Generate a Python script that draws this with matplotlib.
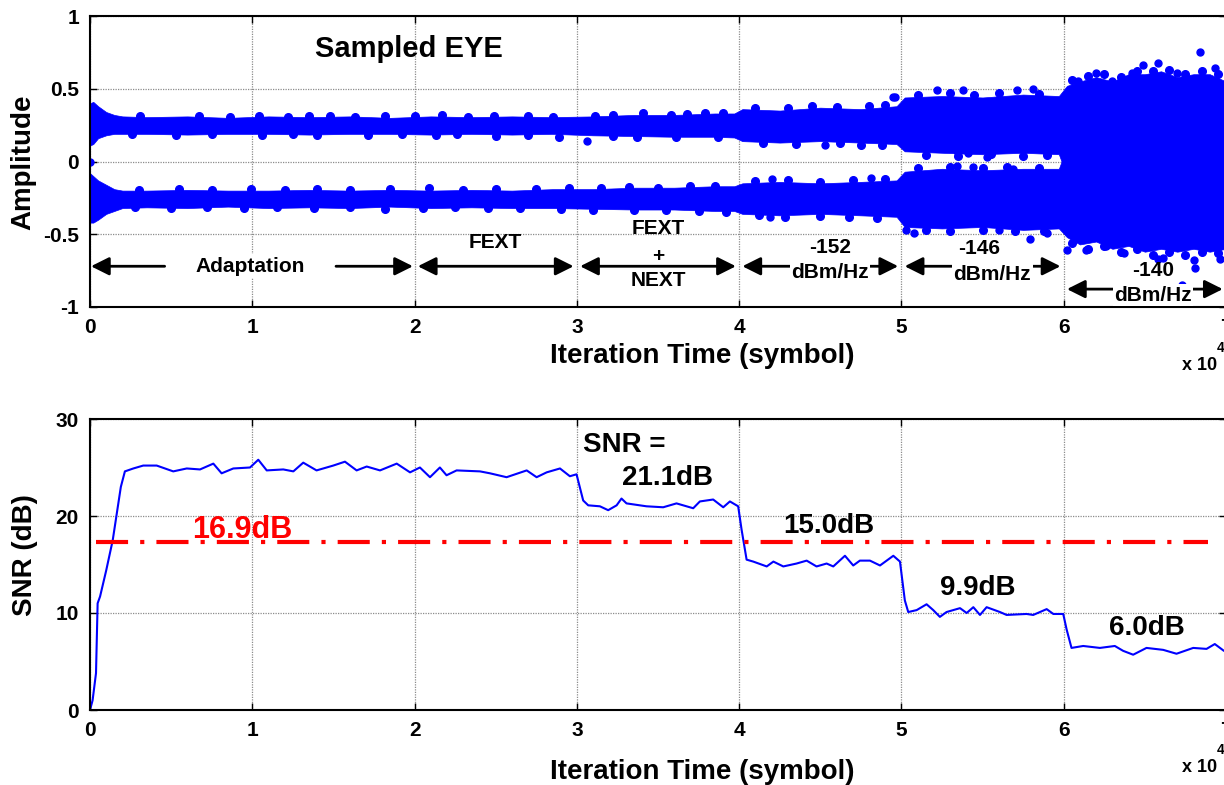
import matplotlib.pyplot as plt
from matplotlib.ticker import MultipleLocator

plt.rcParams['font.family'] = ['Liberation Sans', 'DejaVu Sans']
plt.rcParams['font.weight'] = 'bold'

### data (x in units of 1e4 symbols)

# sampled eye: envelope of the two amplitude clouds
eye_x = [0, 0.02, 0.05, 0.1, 0.15, 0.2, 0.35, 0.6, 0.85, 1.1, 1.35, 1.6, 1.85, 2.1, 2.35, 2.6,
         2.85, 3.1, 3.35, 3.6, 3.85, 3.97, 4.02, 4.25, 4.5, 4.75, 4.97, 5.02, 5.25, 5.5, 5.75, 5.97,
         6.02, 6.1, 6.2, 6.3, 6.4, 6.5, 6.6, 6.7, 6.8, 6.9, 7.0]
up_hi = [0.40, 0.41, 0.38, 0.34, 0.32, 0.31, 0.305, 0.31, 0.30, 0.31, 0.305, 0.31, 0.30, 0.31, 0.305, 0.31,
         0.305, 0.31, 0.32, 0.32, 0.33, 0.33, 0.36, 0.35, 0.37, 0.36, 0.38, 0.44, 0.45, 0.44, 0.46, 0.45,
         0.52, 0.55, 0.58, 0.55, 0.60, 0.60, 0.62, 0.58, 0.60, 0.60, 0.55]
up_lo = [0.11, 0.12, 0.16, 0.18, 0.19, 0.19, 0.19, 0.185, 0.19, 0.19, 0.185, 0.19, 0.19, 0.185, 0.19, 0.185,
         0.19, 0.18, 0.175, 0.17, 0.17, 0.165, 0.14, 0.13, 0.14, 0.13, 0.12, 0.07, 0.06, 0.05, 0.06, 0.05,
         -0.1, -0.1, -0.1, -0.1, -0.1, -0.1, -0.1, -0.1, -0.1, -0.1, -0.1]
lo_hi = [-0.08, -0.10, -0.13, -0.16, -0.19, -0.20, -0.20, -0.195, -0.20, -0.20, -0.195, -0.20, -0.195, -0.20, -0.195, -0.20,
         -0.19, -0.19, -0.18, -0.18, -0.17, -0.17, -0.15, -0.14, -0.15, -0.14, -0.13, -0.07, -0.05, -0.06, -0.05, -0.05,
         0.1, 0.1, 0.1, 0.1, 0.1, 0.1, 0.1, 0.1, 0.1, 0.1, 0.1]
lo_lo = [-0.42, -0.42, -0.40, -0.36, -0.34, -0.32, -0.315, -0.32, -0.31, -0.32, -0.315, -0.32, -0.31, -0.32, -0.315, -0.32,
         -0.32, -0.325, -0.33, -0.33, -0.34, -0.34, -0.36, -0.37, -0.36, -0.37, -0.38, -0.45, -0.46, -0.45, -0.47, -0.46,
         -0.52, -0.57, -0.55, -0.60, -0.58, -0.62, -0.60, -0.62, -0.60, -0.62, -0.60]

# bumps along the cloud edges
bump_x = [0.31, 0.67, 0.86, 1.04, 1.22, 1.35, 1.48, 1.63, 1.82, 2.0, 2.17, 2.33, 2.49, 2.70, 2.85,
          3.11, 3.22, 3.41, 3.58, 3.68, 3.79, 3.90,
          0.26, 0.53, 0.75, 1.06, 1.25, 1.40, 1.71, 1.92, 2.13, 2.26, 2.50, 2.70, 2.89, 3.22, 3.37, 3.61, 3.87,
          0.30, 0.55, 0.75, 0.99, 1.20, 1.40, 1.60, 1.85, 2.09, 2.30, 2.50, 2.75, 2.95, 3.15, 3.32, 3.50, 3.70, 3.85,
          0.28, 0.50, 0.72, 0.95, 1.15, 1.38, 1.60, 1.82, 2.05, 2.25, 2.45, 2.65, 2.90, 3.10, 3.35, 3.55, 3.75, 3.92,
          4.10, 4.30, 4.45, 4.60, 4.80, 4.90, 4.15, 4.35, 4.62, 4.75, 4.88,
          4.10, 4.30, 4.50, 4.70, 4.90, 4.12, 4.28, 4.50, 4.68, 4.85,
          5.10, 5.30, 5.45, 5.60, 5.85, 5.15, 5.35, 5.55, 5.75, 5.90,
          5.10, 5.30, 5.50, 5.65, 5.85, 5.15, 5.30, 5.50, 5.70, 5.88,
          6.05, 6.15, 6.25, 6.35, 6.45, 6.55, 6.65, 6.75, 6.85, 6.95,
          6.05, 6.15, 6.25, 6.35, 6.45, 6.55, 6.65, 6.75, 6.85, 6.95]
bump_y = [0.31, 0.315, 0.305, 0.31, 0.305, 0.31, 0.315, 0.305, 0.31, 0.315, 0.32, 0.305, 0.31, 0.315, 0.305,
          0.315, 0.32, 0.335, 0.32, 0.325, 0.33, 0.335,
          0.19, 0.185, 0.19, 0.185, 0.19, 0.185, 0.18, 0.19, 0.185, 0.19, 0.175, 0.185, 0.17, 0.175, 0.17, 0.165, 0.165,
          -0.195, -0.19, -0.195, -0.19, -0.195, -0.19, -0.195, -0.19, -0.18, -0.195, -0.19, -0.19, -0.185, -0.18, -0.175, -0.18, -0.17, -0.165,
          -0.315, -0.32, -0.315, -0.32, -0.315, -0.32, -0.315, -0.325, -0.32, -0.315, -0.32, -0.32, -0.325, -0.33, -0.335, -0.33, -0.34, -0.345,
          0.37, 0.365, 0.38, 0.375, 0.38, 0.39, 0.125, 0.12, 0.125, 0.115, 0.11,
          -0.135, -0.13, -0.14, -0.125, -0.12, -0.37, -0.38, -0.375, -0.38, -0.39,
          0.46, 0.47, 0.46, 0.47, 0.465, 0.045, 0.04, 0.05, 0.04, 0.045,
          -0.045, -0.04, -0.045, -0.04, -0.045, -0.47, -0.48, -0.47, -0.48, -0.475,
          0.56, 0.59, 0.6, 0.58, 0.62, 0.62, 0.63, 0.6, 0.62, 0.6,
          -0.56, -0.6, -0.58, -0.62, -0.6, -0.64, -0.62, -0.64, -0.62, -0.63]

# single dots sticking out of the clouds
dot_x = [0.0, 3.06, 4.53, 4.95, 4.96, 5.22, 5.38, 5.34, 5.41, 5.71, 5.81,
         4.19, 4.2, 4.81, 5.03, 5.08, 5.34, 5.6, 5.79, 5.9, 5.53, 5.69, 5.44,
         6.84, 6.93, 6.58, 6.42, 6.2, 6.7, 6.49, 6.3, 6.09,
         6.73, 6.81, 6.58, 6.37, 6.02, 6.96, 6.61, 6.8, 6.14, 6.26]
dot_y = [0.0, 0.143, 0.11, 0.44, 0.44, 0.49, 0.49, 0.075, 0.055, 0.49, 0.50,
         -0.38, -0.12, -0.11, -0.47, -0.49, -0.03, -0.47, -0.53, -0.49, 0.03, -0.05, -0.04,
         0.75, 0.64, 0.68, 0.61, 0.61, 0.61, 0.66, 0.55, 0.55,
         -0.85, -0.73, -0.67, -0.63, -0.61, -0.67, -0.66, -0.68, -0.61, -0.58]

# SNR curve
snr_x = [0, 0.016, 0.037, 0.047, 0.062, 0.10, 0.14, 0.19, 0.215, 0.267, 0.328, 0.411, 0.513, 0.596,
         0.678, 0.760, 0.811, 0.883, 0.986, 1.037, 1.089, 1.191, 1.253, 1.314, 1.396, 1.499, 1.571,
         1.643, 1.705, 1.787, 1.890, 1.972, 2.033, 2.095, 2.156, 2.197, 2.259, 2.403, 2.465, 2.567,
         2.691, 2.752, 2.814, 2.896, 2.957, 2.998, 3.039, 3.070, 3.142, 3.193, 3.245, 3.275, 3.306,
         3.429, 3.532, 3.614, 3.717, 3.758, 3.840, 3.902, 3.943, 3.994, 4.015, 4.046, 4.087, 4.170,
         4.211, 4.272, 4.354, 4.416, 4.477, 4.539, 4.580, 4.652, 4.703, 4.744, 4.806, 4.868, 4.950,
         4.991, 5.021, 5.042, 5.094, 5.155, 5.196, 5.237, 5.278, 5.361, 5.402, 5.443, 5.484, 5.525,
         5.607, 5.648, 5.771, 5.812, 5.895, 5.936, 5.997, 6.018, 6.048, 6.120, 6.223, 6.315, 6.366,
         6.428, 6.510, 6.613, 6.695, 6.798, 6.880, 6.931, 6.987, 7.0]
snr_y = [0, 1.0, 3.8, 11.0, 11.7, 14.4, 17.5, 23.0, 24.6, 24.9, 25.2, 25.2, 24.6, 24.9,
         24.8, 25.4, 24.4, 24.9, 25.0, 25.8, 24.7, 24.8, 24.6, 25.5, 24.7, 25.2, 25.6,
         24.7, 25.1, 24.7, 25.4, 24.5, 25.0, 24.0, 25.0, 24.2, 24.7, 24.6, 24.4, 24.0,
         24.7, 24.0, 24.5, 24.9, 24.1, 24.3, 21.6, 21.1, 21.0, 20.6, 21.1, 21.8, 21.3,
         21.0, 20.9, 21.3, 20.8, 21.5, 21.7, 20.9, 21.5, 21.0, 18.6, 15.5, 15.3, 14.8,
         15.3, 14.8, 15.1, 15.4, 14.8, 15.1, 14.8, 15.9, 14.9, 15.4, 15.4, 14.9, 15.9,
         15.3, 11.3, 10.1, 10.3, 10.9, 10.3, 9.6, 10.1, 10.5, 10.0, 10.6, 9.8, 10.6,
         10.1, 9.8, 9.9, 9.8, 10.4, 9.9, 9.9, 8.3, 6.4, 6.6, 6.4, 6.6, 6.1,
         5.7, 6.4, 6.2, 5.8, 6.4, 6.3, 6.8, 6.1, 6.2]
avg_snr = 17.35

# arrows on the eye plot: (start, end, height)
arrows = [(2.02, 2.98, -0.72), (3.02, 3.98, -0.72), (4.02, 4.98, -0.72),
          (5.02, 5.98, -0.72), (6.02, 6.98, -0.877)]

### figure
fig = plt.figure(figsize=(12.24, 7.85), dpi=100)
ax1 = fig.add_axes([90/1224, 1-307/785, 1136/1224, 291/785])
ax2 = fig.add_axes([90/1224, 1-710/785, 1136/1224, 291/785])

tick_font = ['Liberation Sans Narrow', 'Liberation Sans', 'DejaVu Sans']

for ax in (ax1, ax2):
    ax.set_xlim(0, 7)
    ax.xaxis.set_major_locator(MultipleLocator(1))
    ax.set_axisbelow(True)
    ax.grid(True, color='#8c8c8c', ls=(0, (1, 1)), lw=0.9)
    ax.tick_params(direction='in', length=5, width=1, top=True, right=True, pad=8)
    for sp in ax.spines.values():
        sp.set_linewidth(1.5)

# eye
blue = '#0000ff'
ax1.fill_between(eye_x, up_lo, up_hi, color=blue, lw=0.5)
ax1.fill_between(eye_x, lo_lo, lo_hi, color=blue, lw=0.5)
ax1.plot(bump_x, bump_y, 'o', ms=5.5, color=blue, ls='none')
ax1.plot(dot_x, dot_y, 'o', ms=5, color=blue, ls='none')
ax1.set_ylim(-1, 1)
ax1.set_yticks([-1, -0.5, 0, 0.5, 1])
ax1.set_yticklabels(['-1', '-0.5', '0', '0.5', '1'])

ax1.text(1.386, 0.77, 'Sampled EYE', fontsize=21, ha='left', va='center')

arr = dict(arrowstyle='-|>,head_length=11,head_width=5.5', mutation_scale=1,
           color='k', lw=2, shrinkA=0, shrinkB=0)
ax1.annotate('', xy=(0.006, -0.72), xytext=(0.46, -0.72), arrowprops=arr)
ax1.annotate('', xy=(1.99, -0.72), xytext=(1.516, -0.72), arrowprops=arr)
ax1.text(0.985, -0.72, 'Adaptation', fontsize=15, ha='center', va='center',
         bbox=dict(fc='white', ec='none', pad=2))
arr2 = dict(arr, arrowstyle='<|-|>,head_length=11,head_width=5.5')
for a, b, h in arrows:
    ax1.annotate('', xy=(b, h), xytext=(a, h), arrowprops=arr2)

wbox = dict(fc='white', ec='none', pad=1)
ax1.text(2.5, -0.56, 'FEXT', fontsize=15, ha='center', va='center')
ax1.text(3.5, -0.46, 'FEXT', fontsize=15, ha='center', va='center')
ax1.text(3.5, -0.65, '+', fontsize=15, ha='center', va='center')
ax1.text(3.5, -0.815, 'NEXT', fontsize=15, ha='center', va='center', bbox=wbox)
ax1.text(4.56, -0.59, '-152', fontsize=15, ha='center', va='center')
ax1.text(4.56, -0.76, 'dBm/Hz', fontsize=15, ha='center', va='center', bbox=wbox)
ax1.text(5.48, -0.60, '-146', fontsize=15, ha='center', va='center')
ax1.text(5.56, -0.78, 'dBm/Hz', fontsize=15, ha='center', va='center', bbox=wbox)
ax1.text(6.55, -0.75, '-140', fontsize=15, ha='center', va='center')
ax1.text(6.55, -0.92, 'dBm/Hz', fontsize=15, ha='center', va='center', bbox=wbox)

# snr
ax2.plot(snr_x, snr_y, color=blue, lw=1.5)
ax2.plot([0.04, 6.89], [avg_snr, avg_snr], color='red', lw=3, dashes=(7.7, 2.9, 1, 2.9))
ax2.set_ylim(0, 30)
ax2.set_yticks([0, 10, 20, 30])

ax2.text(0.63, 17.73, '16.9dB', color='red', fontsize=22, va='baseline')
ax2.text(3.04, 26.6, 'SNR =', fontsize=20, va='baseline')
ax2.text(3.28, 23.2, '21.1dB', fontsize=20, va='baseline')
ax2.text(4.27, 18.2, '15.0dB', fontsize=20, va='baseline')
ax2.text(5.24, 11.9, '9.9dB', fontsize=20, va='baseline')
ax2.text(6.28, 7.7, '6.0dB', fontsize=20, va='baseline')

for ax in (ax1, ax2):
    for lab in ax.get_xticklabels() + ax.get_yticklabels():
        lab.set_family(tick_font)
        lab.set_fontsize(15)
        lab.set_fontweight('bold')

# axis labels
fig.text(23/1224, 1-162/785, 'Amplitude', fontsize=20, rotation=90, ha='center', va='center')
fig.text(25/1224, 1-555/785, 'SNR (dB)', fontsize=20, rotation=90, ha='center', va='center')
fig.text(702/1224, 1-356/785, 'Iteration Time (symbol)', fontsize=20, ha='center', va='center')
fig.text(702/1224, 1-772/785, 'Iteration Time (symbol)', fontsize=20, ha='center', va='center')
for ypx, ysup in ((366, 348), (768, 750)):
    fig.text(1182/1224, 1-ypx/785, 'x 10', fontsize=13, ha='left', va='center', family=tick_font)
    fig.text(1217/1224, 1-ysup/785, '4', fontsize=10, ha='left', va='center', family=tick_font)

fig.savefig('out.png', dpi=100)
